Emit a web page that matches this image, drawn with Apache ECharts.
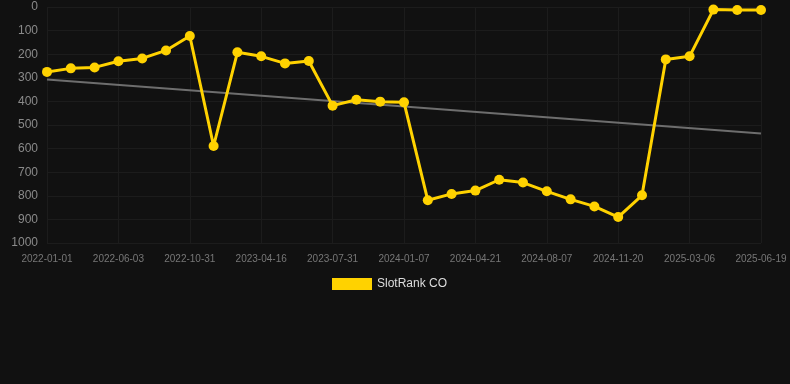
<!DOCTYPE html>
<html>
<head>
<meta charset="utf-8">
<script src="https://cdn.jsdelivr.net/npm/echarts@6/dist/echarts.min.js"></script>
<style>
    html, body { margin: 0; padding: 0; background: #111111; }
    #chart { width: 790px; height: 384px; }
</style>
</head>
<body>
<div id="chart"></div>
<script>
// 日期类目（只有每第三个显示为标签）
const dates = [
    '2022-01-01', '2022-02-21', '2022-04-13', '2022-06-03', '2022-07-23', '2022-09-11',
    '2022-10-31', '2022-12-26', '2023-02-19', '2023-04-16', '2023-05-21', '2023-06-25',
    '2023-07-31', '2023-09-22', '2023-11-15', '2024-01-07', '2024-02-11', '2024-03-17',
    '2024-04-21', '2024-05-27', '2024-07-02', '2024-08-07', '2024-09-11', '2024-10-16',
    '2024-11-20', '2024-12-25', '2025-01-29', '2025-03-06', '2025-04-10', '2025-05-15',
    '2025-06-19'
];

// 排名数据
const ranks = [
    275, 260, 256, 230, 218, 184, 123, 589, 192, 209, 239, 229, 418, 393, 401, 404,
    819, 792, 778, 732, 744, 781, 815, 845, 890, 798, 222, 209, 11, 13, 13
];

const seriesName = 'SlotRank CO';

// 线性趋势（最小二乘）
function trendLine(values) {
    const n = values.length;
    const mx = (n - 1) / 2;
    const my = values.reduce((a, b) => a + b, 0) / n;
    let sxy = 0, sxx = 0;
    values.forEach((v, i) => {
        sxy += (i - mx) * (v - my);
        sxx += (i - mx) * (i - mx);
    });
    const k = sxy / sxx;
    return values.map((v, i) => (i === 0 || i === n - 1) ? my + k * (i - mx) : null);
}

const chart = echarts.init(document.getElementById('chart'));
const option = {
    backgroundColor: '#111111',
    animation: false,
    grid: {
        left: 47,
        right: 29,
        top: 7,
        bottom: 141
    },
    legend: {
        data: [{ name: seriesName, icon: 'rect' }],
        top: 273,
        left: 327,
        itemWidth: 40,
        itemHeight: 12,
        itemGap: 10,
        textStyle: { color: '#dddddd', fontSize: 12, fontFamily: 'Liberation Sans, Arial, sans-serif' }
    },
    xAxis: {
        type: 'category',
        data: dates,
        boundaryGap: false,
        axisLine: { show: false },
        axisTick: { show: false },
        axisLabel: {
            interval: 2,
            color: '#777777',
            fontSize: 10,
            margin: 11,
            fontFamily: 'Liberation Sans, Arial, sans-serif'
        },
        splitLine: {
            show: true,
            interval: 2,
            lineStyle: { color: '#1c1c1c' }
        }
    },
    yAxis: {
        type: 'value',
        inverse: true,
        min: 0,
        max: 1000,
        interval: 100,
        axisLine: { show: false },
        axisTick: { show: false },
        axisLabel: {
            color: '#8a8a8a',
            fontSize: 12,
            margin: 9,
            formatter: v => String(v),
            fontFamily: 'Liberation Sans, Arial, sans-serif'
        },
        splitLine: { lineStyle: { color: '#1c1c1c' } }
    },
    series: [{
        name: 'trend',
        type: 'line',
        data: trendLine(ranks),
        connectNulls: true,
        symbol: 'none',
        silent: true,
        lineStyle: { color: '#6e6e6e', width: 2 },
        z: 1
    }, {
        name: seriesName,
        type: 'line',
        data: ranks,
        symbol: 'circle',
        symbolSize: 10,
        itemStyle: { color: '#ffd200' },
        lineStyle: { color: '#ffd200', width: 3 },
        z: 2
    }]
};
chart.setOption(option);
</script>
</body>
</html>
